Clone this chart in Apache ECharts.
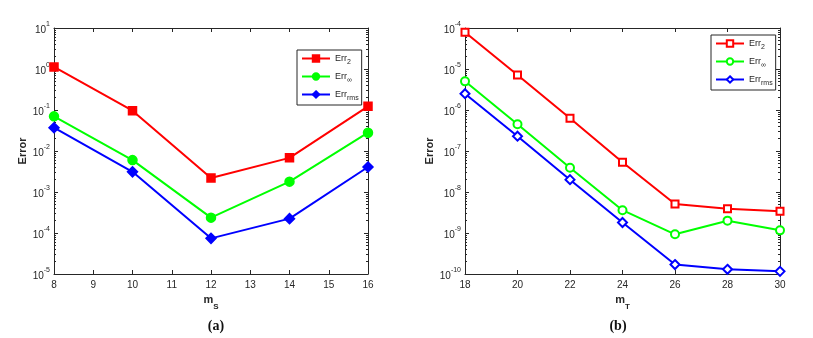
<!DOCTYPE html>
<html>
<head>
<meta charset="utf-8">
<script src="https://cdn.jsdelivr.net/npm/echarts@6/dist/echarts.min.js"></script>
<style>
  html, body { margin: 0; padding: 0; background: #fff; }
  #chart { width: 813px; height: 338px; }
</style>
</head>
<body>
<div id="chart"></div>
<script>
// panel (a): error vs m_S
const msValues = [8, 10, 12, 14, 16];
const errL2A = [1.12, 0.096, 2.2e-3, 6.8e-3, 0.123];
const errInfA = [0.07, 6.0e-3, 2.37e-4, 1.79e-3, 0.028];
const errRmsA = [0.037, 3.1e-3, 7.4e-5, 2.24e-4, 4.07e-3];

// panel (b): error vs m_T
const mtValues = [18, 20, 22, 24, 26, 28, 30];
const errL2B = [7.9e-5, 7.1e-6, 6.3e-7, 5.3e-8, 5.1e-9, 3.9e-9, 3.4e-9];
const errInfB = [5.0e-6, 4.5e-7, 3.9e-8, 3.6e-9, 9.3e-10, 2.0e-9, 1.16e-9];
const errRmsB = [2.5e-6, 2.3e-7, 2.0e-8, 1.8e-9, 1.7e-10, 1.3e-10, 1.16e-10];

const axisColor = '#262626';
const labelFont = 'Liberation Sans';

const pairs = (xs, ys) => xs.map((x, i) => [x, ys[i]]);

function logLabel(v) {
  const e = Math.round(Math.log10(v));
  return '{b|10}{s|' + e + '}';
}

const yRich = {
  b: { fontSize: 10, color: axisColor, fontFamily: labelFont, lineHeight: 14, verticalAlign: 'bottom' },
  s: { fontSize: 7, color: axisColor, fontFamily: labelFont, lineHeight: 14, verticalAlign: 'top' }
};

const minorTicks = { show: true, splitNumber: 9, length: 2, lineStyle: { color: axisColor } };

function xAxisBottom(grid, min, max, interval, nameMain, nameSub) {
  return {
    type: 'value', gridIndex: grid, min: min, max: max, interval: interval,
    position: 'bottom',
    name: '{m|' + nameMain + '}{sub|' + nameSub + '}',
    nameLocation: 'middle', nameGap: 14,
    nameTextStyle: {
      rich: {
        m: { fontSize: 11, fontWeight: 'bold', color: axisColor, fontFamily: labelFont, lineHeight: 16, verticalAlign: 'top' },
        sub: { fontSize: 8, fontWeight: 'bold', color: axisColor, fontFamily: labelFont, lineHeight: 16, verticalAlign: 'bottom' }
      }
    },
    axisLine: { show: true, onZero: false, lineStyle: { color: axisColor, width: 1 } },
    axisTick: { show: true, inside: true, length: 4, lineStyle: { color: axisColor } },
    axisLabel: { color: axisColor, fontSize: 10, fontFamily: labelFont, margin: 6 },
    splitLine: { show: false }
  };
}

function xAxisTop(grid, min, max, interval) {
  return {
    type: 'value', gridIndex: grid, min: min, max: max, interval: interval,
    position: 'top',
    axisLine: { show: true, onZero: false, lineStyle: { color: axisColor, width: 1 } },
    axisTick: { show: true, inside: true, length: 4, lineStyle: { color: axisColor } },
    axisLabel: { show: false },
    splitLine: { show: false }
  };
}

function yAxisLeft(grid, min, max) {
  return {
    type: 'log', logBase: 10, gridIndex: grid, min: min, max: max, interval: 1,
    position: 'left',
    name: 'Error', nameLocation: 'middle', nameGap: 26,
    nameTextStyle: { fontSize: 11, fontWeight: 'bold', color: axisColor, fontFamily: labelFont },
    axisLine: { show: true, onZero: false, lineStyle: { color: axisColor, width: 1 } },
    axisTick: { show: true, inside: true, length: 4, lineStyle: { color: axisColor } },
    minorTick: minorTicks,
    axisLabel: { formatter: logLabel, rich: yRich, margin: 4 },
    splitLine: { show: false }
  };
}

function yAxisRight(grid, min, max) {
  return {
    type: 'log', logBase: 10, gridIndex: grid, min: min, max: max, interval: 1,
    position: 'right',
    axisLine: { show: true, onZero: false, lineStyle: { color: axisColor, width: 1 } },
    axisTick: { show: true, inside: true, length: 4, lineStyle: { color: axisColor } },
    minorTick: minorTicks,
    axisLabel: { show: false },
    splitLine: { show: false }
  };
}

function lineSeries(name, color, symbol, symbolSize, xi, yi, data) {
  return {
    name: name, type: 'line', xAxisIndex: xi, yAxisIndex: yi,
    data: data, symbol: symbol, symbolSize: symbolSize,
    showAllSymbol: true,
    lineStyle: { color: color, width: 2 },
    itemStyle: { color: color, borderColor: color, borderWidth: 1.5 },
    emphasis: { disabled: true },
    animation: false
  };
}

function legendFormatter(name) {
  if (name.indexOf('Err2') === 0) return 'Err{sub|2}';
  if (name.indexOf('ErrInf') === 0) return 'Err{sub|∞}';
  return 'Err{sub|rms}';
}

function legendBox(left, top, names) {
  return {
    orient: 'vertical', left: left, top: top,
    data: names,
    itemWidth: 28, itemHeight: 8, itemGap: 6,
    padding: [4, 3, 3, 4],
    borderColor: axisColor, borderWidth: 1,
    backgroundColor: '#fff',
    formatter: legendFormatter,
    selectedMode: false,
    textStyle: {
      color: axisColor, fontSize: 9, fontFamily: labelFont,
      rich: {
        sub: { fontSize: 7, color: axisColor, fontFamily: labelFont, padding: [8, 0, 0, 0] }
      }
    }
  };
}

const chart = echarts.init(document.getElementById('chart'), null, { renderer: 'canvas' });

const option = {
  backgroundColor: '#fff',
  animation: false,
  title: [
    { text: '(a)', left: 211, top: 314, textAlign: 'center',
      textStyle: { fontFamily: 'Liberation Serif', fontWeight: 'bold', fontSize: 14, color: '#111' } },
    { text: '(b)', left: 613, top: 314, textAlign: 'center',
      textStyle: { fontFamily: 'Liberation Serif', fontWeight: 'bold', fontSize: 14, color: '#111' } }
  ],
  grid: [
    { left: 54, top: 28, width: 314, height: 246 },
    { left: 465, top: 28, width: 315, height: 246 }
  ],
  xAxis: [
    xAxisBottom(0, 8, 16, 1, 'm', 'S'),
    xAxisTop(0, 8, 16, 1),
    xAxisBottom(1, 18, 30, 2, 'm', 'T'),
    xAxisTop(1, 18, 30, 2)
  ],
  yAxis: [
    yAxisLeft(0, 1e-5, 10),
    yAxisRight(0, 1e-5, 10),
    yAxisLeft(1, 1e-10, 1e-4),
    yAxisRight(1, 1e-10, 1e-4)
  ],
  legend: [
    legendBox(297, 50, ['Err2 a', 'ErrInf a', 'ErrRms a']),
    legendBox(711, 35, ['Err2 b', 'ErrInf b', 'ErrRms b'])
  ],
  series: [
    lineSeries('Err2 a', '#ff0000', 'rect', 8, 0, 0, pairs(msValues, errL2A)),
    lineSeries('ErrInf a', '#00ff00', 'circle', 9, 0, 0, pairs(msValues, errInfA)),
    lineSeries('ErrRms a', '#0000ff', 'diamond', 10, 0, 0, pairs(msValues, errRmsA)),
    lineSeries('Err2 b', '#ff0000', 'emptyRect', 7, 2, 2, pairs(mtValues, errL2B)),
    lineSeries('ErrInf b', '#00ff00', 'emptyCircle', 8, 2, 2, pairs(mtValues, errInfB)),
    lineSeries('ErrRms b', '#0000ff', 'emptyDiamond', 9, 2, 2, pairs(mtValues, errRmsB))
  ]
};

chart.setOption(option);
</script>
</body>
</html>
